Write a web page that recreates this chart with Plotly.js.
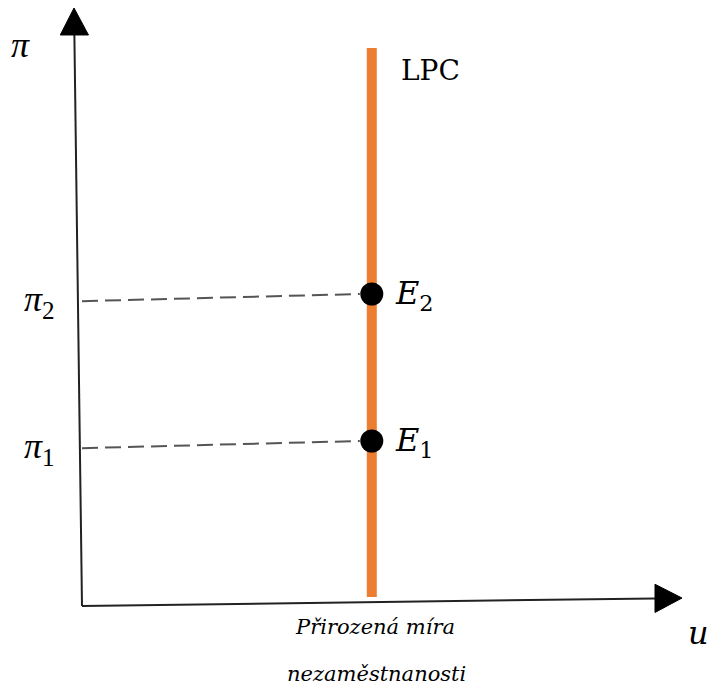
<!DOCTYPE html>
<html>
<head>
<meta charset="utf-8">
<script src="https://cdn.plot.ly/plotly-3.0.1.min.js"></script>
<style>html,body{margin:0;padding:0;background:#fff;}#chart{width:710px;height:690px;}</style>
</head>
<body>
<div id="chart"></div>
<script>
// ---- data (abstract units: u = unemployment, pi = inflation) ----
const naturalRate = 4.83;            // u* (Přirozená míra nezaměstnanosti)
const lpcPi = [0.15, 9.3];           // vertical long-run Phillips curve extent
const pointNames = ["E1", "E2"];
const pointPi = [2.75, 5.2];         // π1, π2 at the equilibria
const pointLabels = ["E", "E"];
const pointSubs = ["1", "2"];
const piTickLabels = ["π", "π"];
const piTickSubs = ["1", "2"];
const dashLeftPi = [2.63, 5.08];     // where dashed guides meet the π axis
const xAxisEnd = [10.0, 0.133];      // tip of u axis (u, pi)
const yAxisEnd = [-0.133, 9.967];    // tip of π axis (u, pi)

// ---- styles ----
const orange = "#ED7D31";
const mathFont = "DejaVu Serif";
const piFont = "Liberation Serif";
const headLen = 0.45, headHalf = 0.235;
const sub = s => '<sub><span style="font-style:normal">' + s + '</span></sub>';

const traces = [];
const xBase = [xAxisEnd[0] - headLen, xAxisEnd[1] - headLen * xAxisEnd[1] / xAxisEnd[0]];
const yBase = [yAxisEnd[0] - headLen * yAxisEnd[0] / yAxisEnd[1], yAxisEnd[1] - headLen];
traces.push({x: [0, xBase[0]], y: [0, xBase[1]], mode: "lines", line: {color: "#222", width: 2}, hoverinfo: "skip"});
traces.push({x: [0, yBase[0]], y: [0, yBase[1]], mode: "lines", line: {color: "#222", width: 2}, hoverinfo: "skip"});
traces.push({x: [xAxisEnd[0], xBase[0], xBase[0], xAxisEnd[0]], y: [xAxisEnd[1], xBase[1] + headHalf, xBase[1] - headHalf, xAxisEnd[1]],
  mode: "lines", fill: "toself", fillcolor: "#000", line: {color: "#000", width: 1}, hoverinfo: "skip"});
traces.push({x: [yAxisEnd[0], yBase[0] - headHalf, yBase[0] + headHalf, yAxisEnd[0]], y: [yAxisEnd[1], yBase[1], yBase[1], yAxisEnd[1]],
  mode: "lines", fill: "toself", fillcolor: "#000", line: {color: "#000", width: 1}, hoverinfo: "skip"});
for (let i = 0; i < pointPi.length; i++) {
  traces.push({x: [0, naturalRate - 0.2], y: [dashLeftPi[i], pointPi[i]], mode: "lines",
    line: {color: "#555", width: 2, dash: "16px,7px"}, hoverinfo: "skip"});
}
traces.push({x: [naturalRate, naturalRate], y: lpcPi, mode: "lines", line: {color: orange, width: 10}, name: "LPC", hoverinfo: "skip"});
traces.push({x: pointPi.map(() => naturalRate), y: pointPi, mode: "markers", text: pointNames,
  marker: {color: "#000", size: 23}, hoverinfo: "text"});

const annotations = [];
for (let i = 0; i < pointPi.length; i++) {
  annotations.push({x: naturalRate + 0.36, y: pointPi[i] - 0.02, xref: "x", yref: "y", text: pointLabels[i] + sub(pointSubs[i]), showarrow: false,
    xanchor: "left", yanchor: "middle", font: {family: mathFont, size: 32, color: "#000", style: "italic"}});
  annotations.push({x: -0.42, y: dashLeftPi[i], xref: "x", yref: "y", text: piTickLabels[i] + sub(piTickSubs[i]), showarrow: false,
    xanchor: "right", yanchor: "middle", font: {family: piFont, size: 36, color: "#000", style: "italic"}});
}
annotations.push({x: naturalRate + 0.45, y: lpcPi[1] - 0.38, xref: "x", yref: "y", text: "LPC", showarrow: false,
  xanchor: "left", yanchor: "middle", font: {family: mathFont, size: 28, color: "#000"}});
annotations.push({x: -1.03, y: 9.35, xref: "x", yref: "y", text: "π", showarrow: false,
  xanchor: "center", yanchor: "middle", font: {family: piFont, size: 36, color: "#000", style: "italic"}});
annotations.push({x: 10.27, y: -0.45, xref: "x", yref: "y", text: "u", showarrow: false,
  xanchor: "center", yanchor: "middle", font: {family: mathFont, size: 32, color: "#000", style: "italic"}});
annotations.push({x: naturalRate + 0.05, y: -0.35, xref: "x", yref: "y", text: "Přirozená míra", showarrow: false,
  xanchor: "center", yanchor: "middle", font: {family: mathFont, size: 21, color: "#000", style: "italic"}});
annotations.push({x: naturalRate + 0.08, y: -1.14, xref: "x", yref: "y", text: "nezaměstnanosti", showarrow: false,
  xanchor: "center", yanchor: "middle", font: {family: mathFont, size: 21, color: "#000", style: "italic"}});

const layout = {
  width: 710, height: 690,
  margin: {l: 0, r: 0, t: 0, b: 0},
  paper_bgcolor: "#fff", plot_bgcolor: "#fff",
  showlegend: false,
  xaxis: {range: [-82 / 60, 628 / 60], visible: false, fixedrange: true},
  yaxis: {range: [-84 / 60, 606 / 60], visible: false, fixedrange: true},
  annotations: annotations
};
Plotly.newPlot("chart", traces, layout, {displayModeBar: false, staticPlot: true});
</script>
</body>
</html>
